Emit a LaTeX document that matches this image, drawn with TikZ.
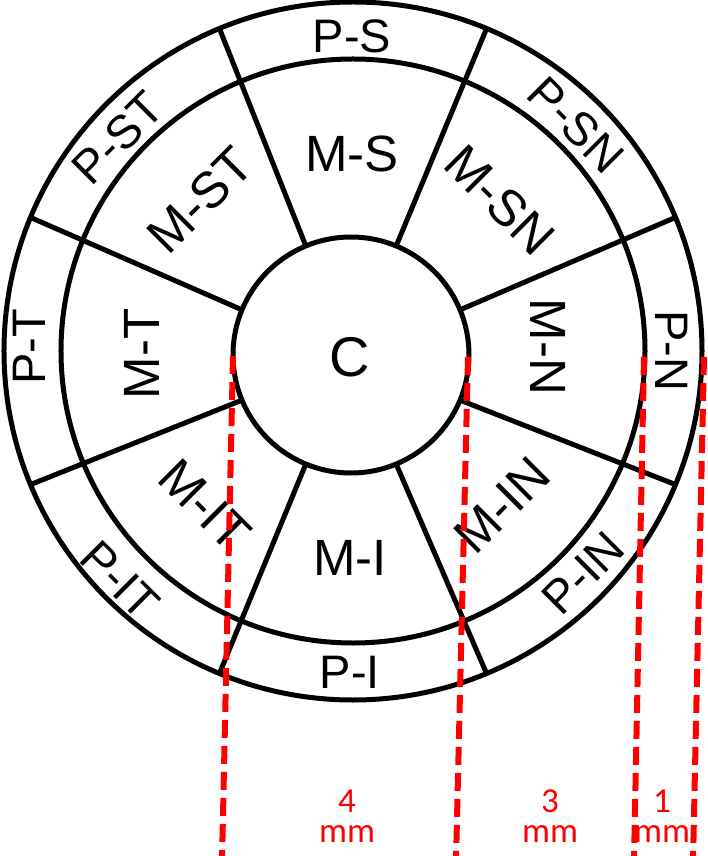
\documentclass[tikz,border=0pt]{standalone}
\usepackage{fontspec}
\setmainfont{Liberation Sans}
\newfontfamily\dimfont{Carlito}

\tikzset{
  ring/.style={line width=5pt},
  plbl/.style={font=\fontsize{47}{50}\selectfont, inner sep=0pt},
  mlbl/.style={font=\fontsize{51}{54}\selectfont, inner sep=0pt},
  dimline/.style={red, line width=6pt, dash pattern=on 18pt off 8pt},
  dimlbl/.style={red, font=\dimfont\fontsize{35}{38}\selectfont, anchor=base, inner sep=0pt},
}

\begin{document}
\begin{tikzpicture}[x=1pt,y=1pt]
  \useasboundingbox (-353,-505) rectangle (354,351);
  \coordinate (c) at (-2,-4);
  % rings
  \draw[ring] (0,0) circle (349);
  \draw[ring] (0,0) circle (292);
  \draw[ring] (c) circle (118);
  \foreach \a in {22.5,67.5,...,337.5}
    \draw[ring] ([shift={(\a:118)}]c) -- (\a:349);
  % centre
  \node[font=\fontsize{56}{60}\selectfont, inner sep=0pt] (cc) at (-3,-6) {C};
  % middle ring
  \node[mlbl] (ms) at (-1,197) {M-S};
  \node[mlbl, rotate=45] (mst) at (-153,151) {M-ST};
  \node[mlbl, rotate=-45] (msn) at (147,151) {M-SN};
  \node[mlbl, rotate=90] (mt) at (-211,-3) {M-T};
  \node[mlbl, rotate=-90] (mn) at (195,4) {M-N};
  \node[mlbl, rotate=-45] (mit) at (-148,-154) {M-IT};
  \node[mlbl, rotate=45] (min) at (149,-154) {M-IN};
  \node[mlbl] (mi) at (-3,-207) {M-I};
  % outer ring
  \node[plbl] (ps) at (-1,315) {P-S};
  \node[plbl, rotate=45] (pst) at (-235,213) {P-ST};
  \node[plbl, rotate=-45] (psn) at (223,226) {P-SN};
  \node[plbl, rotate=90] (pt) at (-324,4) {P-T};
  \node[plbl, rotate=-90] (pn) at (319,0) {P-N};
  \node[plbl, rotate=-45] (pit) at (-233,-229) {P-IT};
  \node[plbl, rotate=45] (pin) at (230,-222) {P-IN};
  \node[plbl] (pi) at (-3,-321) {P-I};
  % measuring lines
  \coordinate (d1t) at (-120,-5);  \coordinate (d1b) at (-131,-510);
  \coordinate (d2t) at (115,-6);   \coordinate (d2b) at (103,-510);
  \coordinate (d3t) at (291,-6);   \coordinate (d3b) at (281,-510);
  \coordinate (d4t) at (351,-6);   \coordinate (d4b) at (340,-510);
  \foreach \i in {1,...,4}
    \draw[dimline] (d\i t) -- (d\i b);
  \node[dimlbl] (w4) at (-6,-461) {4};
  \node[dimlbl] (u4) at (-6,-491) {mm};
  \node[dimlbl] (w3) at (197,-461) {3};
  \node[dimlbl] (u3) at (197,-491) {mm};
  \node[dimlbl] (w1) at (309,-461) {1};
  \node[dimlbl] (u1) at (309,-491) {mm};
\end{tikzpicture}
\end{document}
